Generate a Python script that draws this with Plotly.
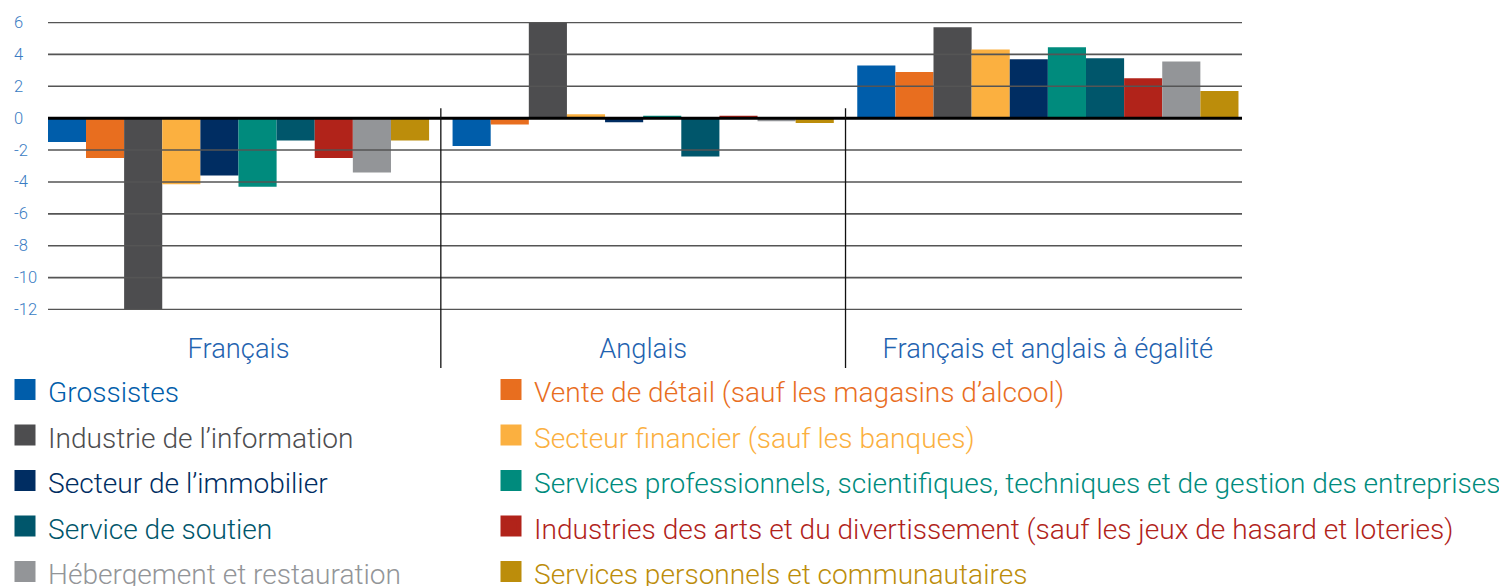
import plotly.graph_objects as go

categories = ["Français", "Anglais", "Français et anglais à égalité"]

series_names = [
    "Grossistes",
    "Vente de détail (sauf les magasins d’alcool)",
    "Industrie de l’information",
    "Secteur financier (sauf les banques)",
    "Secteur de l’immobilier",
    "Services professionnels, scientifiques, techniques et de gestion des entreprises",
    "Service de soutien",
    "Industries des arts et du divertissement (sauf les jeux de hasard et loteries)",
    "Hébergement et restauration",
    "Services personnels et communautaires",
]
series_colors = [
    "#005DAA", "#E86E1F", "#4D4D4F", "#FBB040", "#002D62",
    "#008B7D", "#00566B", "#B1231A", "#939598", "#BC8D0B",
]

grossistes = [-1.5, -1.75, 3.3]
vente_detail = [-2.5, -0.4, 2.9]
information = [-12.0, 6.0, 5.7]
financier = [-4.15, 0.25, 4.3]
immobilier = [-3.6, -0.25, 3.7]
services_prof = [-4.3, 0.15, 4.45]
soutien = [-1.4, -2.4, 3.75]
arts = [-2.5, 0.15, 2.5]
hebergement = [-3.4, -0.2, 3.55]
personnels = [-1.4, -0.3, 1.7]

series_values = [grossistes, vente_detail, information, financier, immobilier,
                 services_prof, soutien, arts, hebergement, personnels]

y_ticks = [6, 4, 2, 0, -2, -4, -6, -8, -10, -12]
y_range = [-12.03, 6.03]
x_range = [-0.4707, 2.4797]

FONT = "Roboto, Liberation Sans, Arial, sans-serif"
TICK_COLOR = "#3A7CC3"
CAT_COLOR = "#1F63B0"

# figure geometry (page has an 8px body margin)
W, H = 1499, 578
ML, MT = 40, 13.5
PLOT_W = 1194
PLOT_BOTTOM = 302
PLOT_H = PLOT_BOTTOM - MT

fig = go.Figure()

for name, color, vals in zip(series_names, series_colors, series_values):
    fig.add_trace(go.Bar(
        x=categories, y=vals, name=name, marker=dict(color=color, line=dict(width=0)),
        showlegend=False, legendgroup=name,
    ))

for i, (name, color) in enumerate(zip(series_names, series_colors)):
    fig.add_trace(go.Scatter(
        x=[None], y=[None], mode="markers", legendgroup=name,
        legend="legend" if i % 2 == 0 else "legend2",
        name=f'<span style="font-size:28.1px;color:{color}">{name}</span>',
        marker=dict(symbol="square", size=16, color=color, line=dict(width=5, color=color)),
        showlegend=True, hoverinfo="skip",
    ))

shapes = []
for t in y_ticks:
    if t == 0:
        continue
    shapes.append(dict(type="line", xref="paper", yref="y", x0=0, x1=1, y0=t, y1=t,
                       line=dict(color="#555555", width=1.6), layer="above"))
shapes.append(dict(type="line", xref="paper", yref="y", x0=0, x1=1, y0=0, y1=0,
                   line=dict(color="#000000", width=3), layer="above"))

for k in range(len(categories) - 1):
    xp = (k + 0.5 - x_range[0]) / (x_range[1] - x_range[0])
    shapes.append(dict(type="line", xref="paper", yref="paper", x0=xp, x1=xp,
                       y0=(PLOT_BOTTOM - 360) / PLOT_H,
                       y1=(PLOT_BOTTOM - 100) / PLOT_H,
                       line=dict(color="#111111", width=1.3), layer="above"))

annotations = []
for t in y_ticks:
    annotations.append(dict(xref="paper", yref="y", x=(4 - ML) / PLOT_W, y=t, text=str(t),
                            xanchor="left", yanchor="middle", showarrow=False,
                            font=dict(family=FONT, size=16.5, color=TICK_COLOR, weight=300)))

legend_common = dict(
    orientation="v", yref="container", xref="paper",
    y=1 - 353.75 / H, xanchor="left", yanchor="top",
    itemsizing="trace", itemwidth=36,
    font=dict(family=FONT, size=32.7, color="#333333", weight=300),
    bgcolor="rgba(0,0,0,0)", traceorder="normal",
)

fig.update_layout(
    width=W, height=H,
    margin=dict(l=ML, r=W - ML - PLOT_W, t=MT, b=H - PLOT_BOTTOM, autoexpand=False),
    paper_bgcolor="white", plot_bgcolor="white",
    barmode="group", bargap=0.058, bargroupgap=0,
    font=dict(family=FONT, weight=300),
    xaxis=dict(range=x_range, showgrid=False, zeroline=False, showline=False, ticks="",
               tickfont=dict(family=FONT, size=27.3, color=CAT_COLOR, weight=300),
               ticklabelstandoff=20),
    yaxis=dict(range=y_range, showgrid=False, zeroline=False, showline=False,
               showticklabels=False, tickvals=y_ticks),
    shapes=shapes,
    annotations=annotations,
    showlegend=True,
    legend=dict(x=(-6 - ML) / PLOT_W, **legend_common),
    legend2=dict(x=(480 - ML) / PLOT_W, **legend_common),
)

fig.write_html("out.html")
